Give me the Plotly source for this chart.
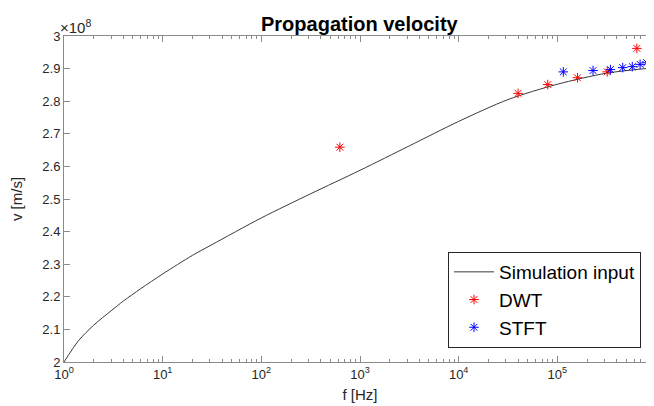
import plotly.graph_objects as go

# Simulation input curve
sim_f = [1, 1.4, 2, 3, 4, 6, 10, 20, 31.6, 100, 316, 1000, 3162, 10000, 31623, 100000, 316228, 1000000]
sim_v = [2.000e8, 2.065e8, 2.113e8, 2.157e8, 2.187e8, 2.225e8, 2.270e8, 2.327e8, 2.360e8, 2.442e8,
         2.516e8, 2.588e8, 2.663e8, 2.738e8, 2.805e8, 2.852e8, 2.886e8, 2.903e8]

# DWT estimates
dwt_f = [625, 40000, 80000, 160000, 320000, 640000]
dwt_v = [2.659e8, 2.824e8, 2.851e8, 2.872e8, 2.890e8, 2.962e8]

# STFT estimates
stft_f = [115000, 230000, 345000, 460000, 575000, 690000, 805000, 920000]
stft_v = [2.890e8, 2.894e8, 2.897e8, 2.903e8, 2.906e8, 2.913e8, 2.918e8, 2.920e8]

x_tickvals = [1, 10, 100, 1000, 10000, 100000, 1000000]
x_ticktext = ["10<sup>0</sup>", "10<sup>1</sup>", "10<sup>2</sup>", "10<sup>3</sup>",
              "10<sup>4</sup>", "10<sup>5</sup>", "10<sup>6</sup>"]
x_minor = [m * d for d in [1, 10, 100, 1000, 10000, 100000] for m in range(2, 10)]
y_tickvals = [2.0e8, 2.1e8, 2.2e8, 2.3e8, 2.4e8, 2.5e8, 2.6e8, 2.7e8, 2.8e8, 2.9e8, 3.0e8]
y_ticktext = ["2", "2.1", "2.2", "2.3", "2.4", "2.5", "2.6", "2.7", "2.8", "2.9", "3"]

FONT = "Liberation Sans, Arial, sans-serif"
AX = "#8a8a8a"
TXT = "#262626"

fig = go.Figure()
fig.add_trace(go.Scatter(x=sim_f, y=sim_v, mode="lines", name="Simulation input",
                         line=dict(color="#3a3a3a", width=1, shape="spline", smoothing=0.8)))
fig.add_trace(go.Scatter(x=dwt_f, y=dwt_v, mode="markers", name="DWT",
                         marker=dict(symbol="asterisk-open", size=8, color="#ff0000",
                                     line=dict(color="#ff0000", width=1))))
fig.add_trace(go.Scatter(x=stft_f, y=stft_v, mode="markers", name="STFT",
                         marker=dict(symbol="asterisk-open", size=8, color="#0000ff",
                                     line=dict(color="#0000ff", width=1))))

fig.update_layout(
    width=654, height=406,
    margin=dict(l=56, r=6, t=28, b=52),
    paper_bgcolor="white", plot_bgcolor="white",
    font=dict(family=FONT, color=TXT, size=13),
    showlegend=True,
    legend=dict(x=(633 - 56) / 592, xanchor="right", y=(354 - 340) / 326, yanchor="bottom",
                bgcolor="white", bordercolor=TXT, borderwidth=1, itemwidth=40,
                font=dict(size=19, color="#000000", family=FONT), tracegroupgap=0),
    xaxis=dict(type="log", range=[0, 6], tickvals=x_tickvals, ticktext=x_ticktext,
               showline=True, linecolor=AX, linewidth=1, mirror="ticks",
               ticks="inside", ticklen=6, tickcolor=AX, showgrid=False, zeroline=False,
               minor=dict(tickmode="array", tickvals=x_minor, ticks="inside", ticklen=3,
                          tickcolor=AX, showgrid=False),
               title=dict(text="f [Hz]", font=dict(size=15, color=TXT), standoff=8),
               tickfont=dict(size=13, color=TXT)),
    yaxis=dict(range=[2e8, 3e8], tickvals=y_tickvals, ticktext=y_ticktext,
               showline=True, linecolor=AX, linewidth=1, mirror="ticks",
               ticks="inside", ticklen=6, tickcolor=AX, showgrid=False, zeroline=False,
               title=dict(text="v [m/s]", font=dict(size=15, color=TXT), standoff=17),
               tickfont=dict(size=13, color=TXT)),
    annotations=[
        dict(text="<b>Propagation velocity</b>", xref="paper", yref="paper", x=0.5, y=1,
             xanchor="center", yanchor="bottom", showarrow=False, yshift=-1,
             font=dict(size=20, color="#000000", family=FONT)),
        dict(text="×10<sup>8</sup>", xref="paper", yref="paper", x=0, y=1,
             xanchor="left", yanchor="bottom", showarrow=False,
             font=dict(size=15, color=TXT), xshift=-6, yshift=-2),
    ],
)

fig.write_html("out.html")
